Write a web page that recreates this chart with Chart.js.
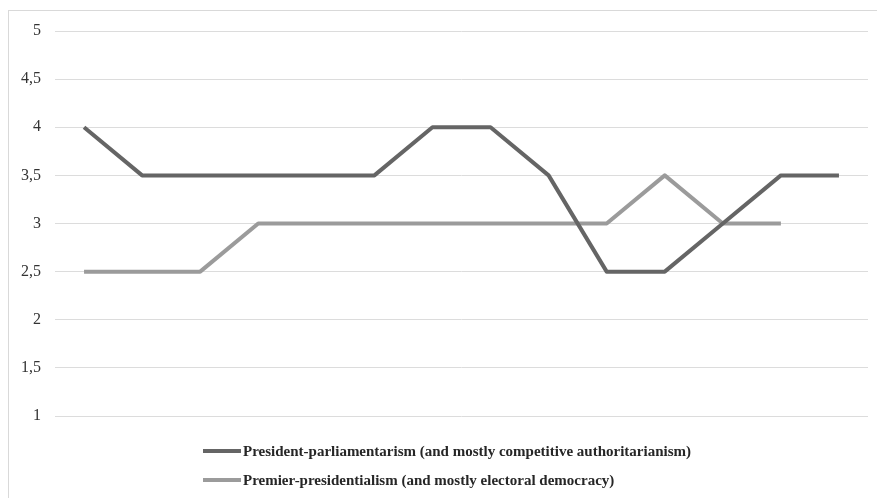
<!DOCTYPE html>
<html>
<head>
<meta charset="utf-8">
<script src="https://cdn.jsdelivr.net/npm/chart.js@4/dist/chart.umd.min.js"></script>
<style>
  html, body { margin: 0; padding: 0; background: #fff; }
  #wrap { position: relative; width: 877px; height: 498px; }
</style>
</head>
<body>
<div id="wrap"><canvas id="c" width="877" height="498"></canvas></div>
<script>
const categories = ["1","2","3","4","5","6","7","8","9","10","11","12","13","14"];
const presParl = [4, 3.5, 3.5, 3.5, 3.5, 3.5, 4, 4, 3.5, 2.5, 2.5, 3, 3.5, 3.5];
const premPres = [2.5, 2.5, 2.5, 3, 3, 3, 3, 3, 3, 3, 3.5, 3, 3, null];
const seriesNames = [
  "President-parliamentarism (and mostly competitive authoritarianism)",
  "Premier-presidentialism (and mostly electoral democracy)"
];
const seriesColors = ["#656565", "#9b9b9b"];

const framePlugin = {
  id: 'frame',
  beforeDraw(chart) {
    const ctx = chart.ctx;
    ctx.save();
    ctx.fillStyle = '#fff';
    ctx.fillRect(0, 0, chart.width, chart.height);
    ctx.strokeStyle = '#d9d9d9';
    ctx.lineWidth = 1;
    ctx.strokeRect(8.5, 10.5, 1000, 1000);
    ctx.restore();
  }
};

const legendPlugin = {
  id: 'vlegend',
  afterDraw(chart) {
    const ctx = chart.ctx;
    ctx.save();
    ctx.font = 'bold 15px "Liberation Serif", serif';
    ctx.textBaseline = 'middle';
    ctx.textAlign = 'left';
    const x0 = 203, rows = [451, 480];
    chart.data.datasets.forEach((ds, i) => {
      const y = rows[i];
      ctx.strokeStyle = ds.borderColor;
      ctx.lineWidth = 4;
      ctx.lineCap = 'butt';
      ctx.beginPath();
      ctx.moveTo(x0, y);
      ctx.lineTo(x0 + 38, y);
      ctx.stroke();
      ctx.fillStyle = '#262626';
      ctx.fillText(ds.label, x0 + 40, y + 1);
    });
    ctx.restore();
  }
};

new Chart(document.getElementById('c'), {
  type: 'line',
  data: {
    labels: categories,
    datasets: [
      { label: seriesNames[0], data: presParl, borderColor: seriesColors[0], backgroundColor: seriesColors[0], borderWidth: 4, pointRadius: 0, tension: 0, fill: false, borderJoinStyle: 'round' },
      { label: seriesNames[1], data: premPres, borderColor: seriesColors[1], backgroundColor: seriesColors[1], borderWidth: 4, pointRadius: 0, tension: 0, fill: false, borderJoinStyle: 'round' }
    ]
  },
  options: {
    responsive: false,
    animation: false,
    layout: { padding: { left: 0, right: 9, top: 31, bottom: 82 } },
    plugins: { legend: { display: false }, tooltip: { enabled: false } },
    scales: {
      x: { display: false, offset: true },
      y: {
        min: 1, max: 5,
        afterFit(scale) { scale.width = 55; },
        border: { display: false },
        grid: { color: '#dcdcdc', lineWidth: 1, drawTicks: false },
        ticks: {
          stepSize: 0.5,
          padding: 14,
          color: '#333333',
          font: { family: '"Liberation Serif", serif', size: 16 },
          callback: v => String(v).replace('.', ',')
        }
      }
    }
  },
  plugins: [framePlugin, legendPlugin]
});
</script>
</body>
</html>
